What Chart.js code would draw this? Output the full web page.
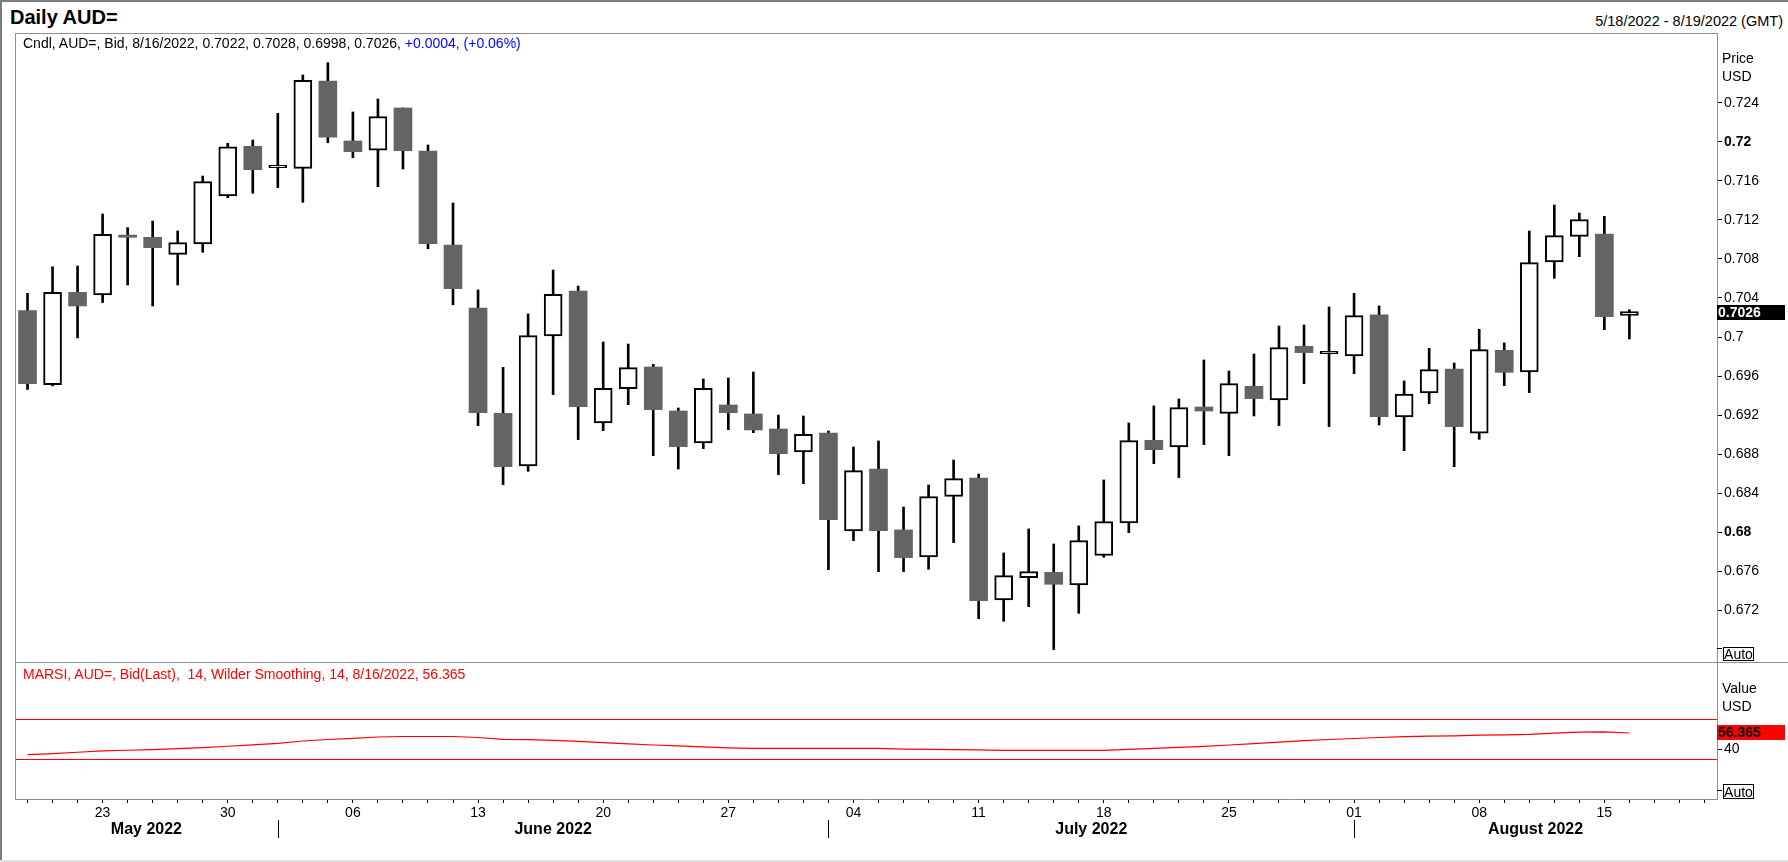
<!DOCTYPE html>
<html><head><meta charset="utf-8">
<script src="https://cdn.jsdelivr.net/npm/chart.js@4"></script>
<style>
html,body{margin:0;padding:0;background:#fff;}
body{width:1788px;height:862px;position:relative;overflow:hidden;font-family:"Liberation Sans",Arial,sans-serif;color:#000;}
.t{position:absolute;white-space:nowrap;line-height:1;}
.ln{position:absolute;background:#8c8c9a;}
.auto{position:absolute;box-sizing:border-box;border:1px solid #000;font-size:14px;text-align:center;width:31px;}
canvas{position:absolute;}
</style></head><body>
<canvas id="price" width="1773" height="629" style="left:15px;top:33px;"></canvas>
<canvas id="rsi" width="1773" height="199" style="left:15px;top:663px;"></canvas>

<div class="ln" style="left:0;top:0;width:1788px;height:2px;background:#7c7c7c"></div>
<div class="ln" style="left:0;top:0;width:2px;height:862px;background:#7c7c7c"></div>
<div class="ln" style="left:0;top:860px;width:1788px;height:2px;background:#e2e2e2"></div>
<div class="ln" style="left:15px;top:33px;width:1702px;height:1px;"></div>
<div class="ln" style="left:15px;top:33px;width:1px;height:766px;"></div>
<div class="ln" style="left:15px;top:662px;width:1773px;height:1px;"></div>

<div class="t" style="left:10px;top:7px;font-size:20px;font-weight:bold;">Daily AUD=</div>
<div class="t" style="right:5px;top:14px;font-size:14.5px;">5/18/2022 - 8/19/2022 (GMT)</div>
<div class="t" id="cndl" style="left:23px;top:36px;font-size:14px;"></div>
<div class="t" id="marsi" style="left:23px;top:667px;font-size:14px;color:#ff0000;"></div>

<div class="t" style="left:1722px;top:51px;font-size:14px;">Price</div>
<div class="t" style="left:1722px;top:69px;font-size:14px;">USD</div>
<div class="t" style="left:1722px;top:681px;font-size:14px;">Value</div>
<div class="t" style="left:1722px;top:699px;font-size:14px;">USD</div>

<div class="ln" style="left:1717px;top:648px;width:5px;height:1px;background:#000"></div>
<div class="auto" style="left:1723px;top:647px;height:14px;line-height:13px;">Auto</div>
<div class="ln" style="left:1717px;top:790px;width:5px;height:1px;background:#000"></div>
<div class="auto" style="left:1723px;top:784px;height:15px;line-height:14px;">Auto</div>

<script>
// ---- data ----
const days = [
 '2022-05-18','2022-05-19','2022-05-20','2022-05-23','2022-05-24','2022-05-25','2022-05-26','2022-05-27','2022-05-30','2022-05-31',
 '2022-06-01','2022-06-02','2022-06-03','2022-06-06','2022-06-07','2022-06-08','2022-06-09','2022-06-10','2022-06-13','2022-06-14',
 '2022-06-15','2022-06-16','2022-06-17','2022-06-20','2022-06-21','2022-06-22','2022-06-23','2022-06-24','2022-06-27','2022-06-28',
 '2022-06-29','2022-06-30','2022-07-01','2022-07-04','2022-07-05','2022-07-06','2022-07-07','2022-07-08','2022-07-11','2022-07-12',
 '2022-07-13','2022-07-14','2022-07-15','2022-07-18','2022-07-19','2022-07-20','2022-07-21','2022-07-22','2022-07-25','2022-07-26',
 '2022-07-27','2022-07-28','2022-07-29','2022-08-01','2022-08-02','2022-08-03','2022-08-04','2022-08-05','2022-08-08','2022-08-09',
 '2022-08-10','2022-08-11','2022-08-12','2022-08-15','2022-08-16','2022-08-17','2022-08-18','2022-08-19'
];
const open = [0.70271,0.69511,0.70458,0.70430,0.71044,0.71021,0.70847,0.70953,0.71444,0.71953,
 0.71735,0.71728,0.72622,0.72008,0.71915,0.72346,0.71905,0.70942,0.70297,0.69218,
 0.68679,0.70010,0.70471,0.69119,0.69471,0.69693,0.69242,0.68915,0.69304,0.69212,
 0.69058,0.68822,0.69017,0.68013,0.68648,0.68024,0.67747,0.68368,0.68556,0.67307,
 0.67535,0.67590,0.67460,0.67764,0.68095,0.68942,0.68874,0.69283,0.69218,0.69495,
 0.69355,0.69905,0.69830,0.69806,0.70226,0.69181,0.69427,0.69672,0.69014,0.69864,
 0.69642,0.70768,0.71031,0.71055,0.7022];
const high = [0.70447,0.70720,0.70727,0.71260,0.71120,0.71188,0.71086,0.71649,0.71984,0.72018,
 0.72291,0.72684,0.72810,0.72305,0.72438,0.72346,0.71967,0.71373,0.70482,0.69690,
 0.70236,0.70686,0.70522,0.69949,0.69928,0.69720,0.69273,0.69570,0.69580,0.69642,
 0.69201,0.69191,0.69037,0.68874,0.68935,0.68259,0.68484,0.68740,0.68597,0.67788,
 0.68034,0.67880,0.68065,0.68536,0.69120,0.69294,0.69365,0.69765,0.69652,0.69826,
 0.70113,0.70123,0.70308,0.70447,0.70318,0.69550,0.69884,0.69734,0.70079,0.69939,
 0.71086,0.71352,0.71270,0.71236,0.7028];
const low = [0.69463,0.69499,0.69991,0.70353,0.70533,0.70318,0.70533,0.70868,0.71427,0.71472,
 0.71530,0.71380,0.71990,0.71837,0.71540,0.71721,0.70905,0.70330,0.69092,0.68488,
 0.68624,0.69410,0.68949,0.69041,0.69307,0.68785,0.68648,0.68856,0.69051,0.69020,
 0.68590,0.68498,0.67617,0.67914,0.67597,0.67597,0.67621,0.67894,0.67115,0.67088,
 0.67238,0.66798,0.67170,0.67744,0.67996,0.68703,0.68560,0.68898,0.68785,0.69191,
 0.69092,0.69522,0.69082,0.69625,0.69099,0.68836,0.69318,0.68672,0.68952,0.69502,
 0.69430,0.70601,0.70823,0.70075,0.6998];
const close = [0.69522,0.70458,0.70318,0.71052,0.71021,0.70915,0.70966,0.71591,0.71949,0.71714,
 0.71760,0.72629,0.72046,0.71898,0.72257,0.71908,0.70956,0.70495,0.69225,0.68672,
 0.70014,0.70437,0.69287,0.69474,0.69686,0.69256,0.68877,0.69474,0.69225,0.69048,
 0.68805,0.69003,0.68129,0.68631,0.68017,0.67740,0.68365,0.68549,0.67300,0.67556,
 0.67597,0.67467,0.67914,0.68109,0.68939,0.68846,0.69276,0.69242,0.69522,0.69369,
 0.69891,0.69840,0.69852,0.70219,0.69184,0.69416,0.69666,0.69082,0.69871,0.69638,
 0.70762,0.71038,0.71202,0.70209,0.7026];
const rsi = [34.7,35.7,37.0,38.4,39.0,39.7,40.7,41.6,43.0,44.4,
 46.0,48.3,49.8,50.9,52.3,52.8,52.8,52.8,51.8,50.0,
 49.6,48.9,47.9,46.6,45.5,44.3,43.3,42.3,41.3,40.8,
 40.8,40.8,40.8,40.8,40.8,40.2,39.9,39.7,39.4,38.8,
 38.8,38.8,38.8,38.8,39.8,40.8,41.8,42.9,44.3,45.6,
 47.2,48.6,49.8,50.8,51.8,52.7,53.2,53.5,54.2,54.5,
 55.0,56.2,57.2,57.5,56.365];
const priceTicks = [0.672,0.676,0.680,0.684,0.688,0.692,0.696,0.700,0.704,0.708,0.712,0.716,0.720,0.724];
const boldPriceTicks = [0.680,0.720];
const rsiTicks = [40];
const rsiBands = [70,30];
const monthNames = ['May 2022','June 2022','July 2022','August 2022'];

// ---- text ----
document.getElementById('cndl').innerHTML =
  'Cndl, AUD=, Bid, 8/16/2022, 0.7022, 0.7028, 0.6998, 0.7026, <span style="color:#0000ff">+0.0004, (+0.06%)</span>';
document.getElementById('marsi').textContent =
  'MARSI, AUD=, Bid(Last),\u00a0\u00a014, Wilder Smoothing, 14, 8/16/2022, 56.365';

// ---- helpers ----
const FONT = '"Liberation Sans", Arial, sans-serif';
const AXIS = '#8c8c9a';
const up = close.map((c,i) => c >= open[i]);
const bodies = open.map((o,i) => [o, close[i]]);
const wicks = low.map((l,i) => [l, high[i]]);
const isMonday = d => new Date(d + 'T00:00:00Z').getUTCDay() === 1;
const monthStarts = days.map((d,i) => (i > 0 && d.slice(5,7) !== days[i-1].slice(5,7)) ? i : -1).filter(i => i >= 0);
const isBold = v => boldPriceTicks.some(b => Math.abs(b - v) < 1e-9);
const noPad = s => { s.paddingTop = 0; s.paddingBottom = 0; s.paddingLeft = 0; s.paddingRight = 0; };

const priceBox = {
  id: 'priceBox',
  afterDraw(chart) {
    const {ctx, chartArea, scales} = chart;
    const v = close[close.length - 1];
    const py = scales.y.getPixelForValue(v);
    ctx.save();
    ctx.fillStyle = '#000';
    ctx.fillRect(chartArea.right, Math.round(py) - 7, 68, 15);
    ctx.fillStyle = '#fff';
    ctx.font = 'bold 14px ' + FONT;
    ctx.textBaseline = 'middle';
    ctx.textAlign = 'left';
    ctx.fillText(v.toFixed(4), chartArea.right + 1, Math.round(py) + 1);
    ctx.restore();
  }
};

const rsiDeco = {
  id: 'rsiDeco',
  beforeDatasetsDraw(chart) {
    const {ctx, chartArea, scales} = chart;
    ctx.save();
    ctx.strokeStyle = '#ff0000';
    ctx.lineWidth = 1.2;
    rsiBands.forEach(b => {
      const y = Math.round(scales.y.getPixelForValue(b)) + 0.5;
      ctx.beginPath(); ctx.moveTo(chartArea.left, y); ctx.lineTo(chartArea.right, y); ctx.stroke();
    });
    ctx.restore();
  },
  afterDraw(chart) {
    const {ctx, chartArea, scales} = chart;
    const v = rsi[rsi.length - 1];
    const py = Math.round(scales.y.getPixelForValue(v));
    ctx.save();
    ctx.fillStyle = '#ff0000';
    ctx.fillRect(chartArea.right, py - 8, 68, 15);
    ctx.fillStyle = '#000';
    ctx.font = 'bold 14px ' + FONT;
    ctx.textBaseline = 'middle';
    ctx.textAlign = 'left';
    ctx.fillText(v.toFixed(3), chartArea.right + 1, py);
    // month separators and labels
    const bounds = [chartArea.left, ...monthStarts.map(i => scales.x.getPixelForValue(i)), chartArea.right];
    ctx.strokeStyle = '#000';
    ctx.lineWidth = 1;
    monthStarts.forEach(i => {
      const x = Math.round(scales.x.getPixelForValue(i)) + 0.5;
      ctx.beginPath(); ctx.moveTo(x, chartArea.bottom + 21); ctx.lineTo(x, chartArea.bottom + 39); ctx.stroke();
    });
    ctx.font = 'bold 16px ' + FONT;
    ctx.textAlign = 'center';
    ctx.textBaseline = 'alphabetic';
    monthNames.forEach((m,k) => {
      ctx.fillText(m, (bounds[k] + bounds[k+1]) / 2, chartArea.bottom + 35);
    });
    ctx.restore();
  }
};

new Chart(document.getElementById('price'), {
  type: 'bar',
  data: {
    labels: days,
    datasets: [
      { data: bodies, grouped: false, order: 0, barThickness: 18,
        backgroundColor: up.map(u => u ? '#ffffff' : '#646464'),
        borderColor: '#000000', borderWidth: up.map(u => u ? 2 : 0), borderSkipped: false },
      { data: wicks, grouped: false, order: 1, barThickness: 2,
        backgroundColor: '#000000', borderWidth: 0 }
    ]
  },
  options: {
    responsive: false, animation: false, events: [],
    layout: { padding: 0 },
    plugins: { legend: { display: false }, tooltip: { enabled: false } },
    scales: {
      x: { display: false, offset: true },
      y: {
        position: 'right', min: 0.66671, max: 0.73114,
        afterBuildTicks: s => { s.ticks = priceTicks.map(v => ({ value: v })); },
        afterFit: s => { s.width = 71; noPad(s); },
        border: { display: true, color: AXIS, width: 1 },
        grid: { drawOnChartArea: false, drawTicks: true, tickLength: 5, tickColor: '#000', tickWidth: 1 },
        ticks: {
          color: '#000', padding: 2,
          font: ctx => ({ family: FONT, size: 14, weight: (ctx.tick && isBold(ctx.tick.value)) ? 'bold' : 'normal' }),
          callback: v => String(+Number(v).toFixed(3))
        }
      }
    }
  },
  plugins: [priceBox]
});

new Chart(document.getElementById('rsi'), {
  type: 'line',
  data: {
    labels: days,
    datasets: [{ data: rsi, borderColor: '#ff0000', borderWidth: 1.2, pointRadius: 0, tension: 0, fill: false }]
  },
  options: {
    responsive: false, animation: false, events: [],
    layout: { padding: 0 },
    plugins: { legend: { display: false }, tooltip: { enabled: false } },
    scales: {
      x: {
        offset: true,
        afterFit: s => { s.height = 63; noPad(s); },
        border: { display: true, color: AXIS, width: 1 },
        grid: { offset: false, drawOnChartArea: false, drawTicks: true, tickLength: 4, tickColor: '#000', tickWidth: 1 },
        ticks: {
          autoSkip: false, maxRotation: 0, minRotation: 0, padding: 2, color: '#000',
          font: { family: FONT, size: 14 },
          callback: (v, i) => isMonday(days[i]) ? days[i].slice(8) : ''
        }
      },
      y: {
        position: 'right', min: -10, max: 126.7,
        afterBuildTicks: s => { s.ticks = rsiTicks.map(v => ({ value: v })); },
        afterFit: s => { s.width = 71; noPad(s); },
        border: { display: true, color: AXIS, width: 1 },
        grid: { drawOnChartArea: false, drawTicks: true, tickLength: 5, tickColor: '#000', tickWidth: 1 },
        ticks: { color: '#000', padding: 2, font: { family: FONT, size: 14 } }
      }
    }
  },
  plugins: [rsiDeco]
});
</script>
</body></html>
